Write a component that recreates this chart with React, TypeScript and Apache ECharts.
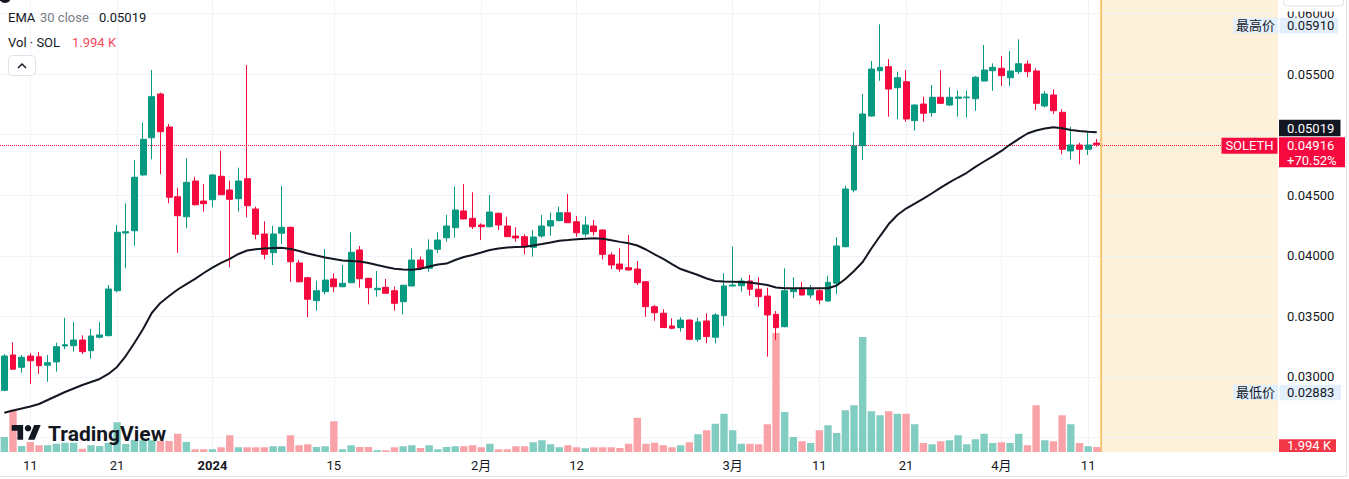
import React, { useEffect, useRef } from "react";
import * as echarts from "echarts";

// ---------------- data ----------------
const startDate = "2023-12-08";
const futureDays = 20;

const openPrices = [
  0.02890, 0.03182, 0.03080, 0.03173, 0.03167, 0.03097, 0.03124, 0.03256, 0.03258, 0.03305,
  0.03217, 0.03328, 0.03341, 0.03712, 0.04188, 0.04207, 0.04667, 0.04974, 0.05335, 0.05063,
  0.04487, 0.04322, 0.04617, 0.04452, 0.04463, 0.04656, 0.04543, 0.04471, 0.04636, 0.04386,
  0.04180, 0.04026, 0.04186, 0.04235, 0.03941, 0.03819, 0.03630, 0.03704, 0.03809, 0.03745,
  0.03778, 0.04048, 0.03814, 0.03720, 0.03740, 0.03712, 0.03621, 0.03751, 0.03965, 0.03897,
  0.04054, 0.04149, 0.04232, 0.04370, 0.04309, 0.04254, 0.04240, 0.04351, 0.04246, 0.04163,
  0.04158, 0.04070, 0.04163, 0.04246, 0.04290, 0.04355, 0.04281, 0.04180, 0.04246, 0.04213,
  0.04007, 0.03932, 0.03902, 0.03891, 0.03786, 0.03580, 0.03526, 0.03421, 0.03407, 0.03470,
  0.03311, 0.03462, 0.03328, 0.03506, 0.03751, 0.03753, 0.03792, 0.03724, 0.03668, 0.03517,
  0.03415, 0.03704, 0.03732, 0.03677, 0.03712, 0.03627, 0.03773, 0.04075, 0.04543, 0.04908,
  0.05153, 0.05527, 0.05560, 0.05387, 0.05436, 0.05115, 0.05252, 0.05181, 0.05308, 0.05244,
  0.05299, 0.05304, 0.05296, 0.05442, 0.05527, 0.05547, 0.05469, 0.05519, 0.05582, 0.05525,
  0.05236, 0.05327, 0.05184, 0.04865, 0.04914, 0.04879, 0.04930,
];

const closePrices = [
  0.03173, 0.03064, 0.03163, 0.03134, 0.03093, 0.03118, 0.03250, 0.03266, 0.03305, 0.03209,
  0.03338, 0.03347, 0.03726, 0.04194, 0.04199, 0.04648, 0.04961, 0.05313, 0.05024, 0.04483,
  0.04331, 0.04606, 0.04421, 0.04430, 0.04667, 0.04504, 0.04466, 0.04617, 0.04413, 0.04177,
  0.04012, 0.04180, 0.04235, 0.03951, 0.03786, 0.03641, 0.03712, 0.03800, 0.03745, 0.03773,
  0.04029, 0.03811, 0.03737, 0.03732, 0.03691, 0.03608, 0.03757, 0.03965, 0.03897, 0.04048,
  0.04130, 0.04246, 0.04378, 0.04304, 0.04240, 0.04240, 0.04361, 0.04254, 0.04158, 0.04147,
  0.04075, 0.04155, 0.04246, 0.04290, 0.04355, 0.04273, 0.04190, 0.04254, 0.04199, 0.04012,
  0.03924, 0.03891, 0.03883, 0.03778, 0.03580, 0.03530, 0.03408, 0.03402, 0.03470, 0.03311,
  0.03454, 0.03333, 0.03512, 0.03751, 0.03759, 0.03792, 0.03724, 0.03663, 0.03512, 0.03407,
  0.03712, 0.03724, 0.03677, 0.03724, 0.03635, 0.03781, 0.04081, 0.04551, 0.04906, 0.05170,
  0.05541, 0.05555, 0.05376, 0.05469, 0.05129, 0.05244, 0.05176, 0.05308, 0.05258, 0.05308,
  0.05310, 0.05310, 0.05473, 0.05533, 0.05555, 0.05486, 0.05525, 0.05585, 0.05519, 0.05258,
  0.05335, 0.05197, 0.04879, 0.04914, 0.04879, 0.04914, 0.04916,
];

const lowPrices = [
  0.02883, 0.03060, 0.03035, 0.02942, 0.03025, 0.02961, 0.03044, 0.03229, 0.03209, 0.03190,
  0.03151, 0.03319, 0.03335, 0.03699, 0.03897, 0.04083, 0.04660, 0.04796, 0.04672, 0.04433,
  0.04025, 0.04227, 0.04415, 0.04364, 0.04400, 0.04500, 0.03905, 0.04364, 0.04318, 0.04136,
  0.03971, 0.03924, 0.04097, 0.03786, 0.03780, 0.03493, 0.03547, 0.03682, 0.03699, 0.03740,
  0.03775, 0.03737, 0.03600, 0.03663, 0.03688, 0.03547, 0.03517, 0.03748, 0.03883, 0.03869,
  0.04021, 0.04116, 0.04149, 0.04300, 0.04221, 0.04130, 0.04235, 0.04213, 0.04155, 0.04116,
  0.04012, 0.03993, 0.04149, 0.04166, 0.04285, 0.04270, 0.04157, 0.04157, 0.04166, 0.03971,
  0.03891, 0.03869, 0.03880, 0.03759, 0.03497, 0.03464, 0.03405, 0.03394, 0.03374, 0.03305,
  0.03291, 0.03278, 0.03278, 0.03423, 0.03748, 0.03704, 0.03671, 0.03580, 0.03168, 0.03305,
  0.03410, 0.03649, 0.03672, 0.03649, 0.03600, 0.03621, 0.03685, 0.04070, 0.04524, 0.04790,
  0.05150, 0.05444, 0.05148, 0.05126, 0.05106, 0.05032, 0.05106, 0.05148, 0.05255, 0.05236,
  0.05148, 0.05143, 0.05197, 0.05440, 0.05362, 0.05401, 0.05401, 0.05500, 0.05473, 0.05203,
  0.05225, 0.05170, 0.04837, 0.04796, 0.04755, 0.04832, 0.04900,
];

const highPrices = [
  0.03190, 0.03286, 0.03182, 0.03196, 0.03206, 0.03182, 0.03283, 0.03489, 0.03454, 0.03344,
  0.03396, 0.03454, 0.03759, 0.04254, 0.04433, 0.04790, 0.05098, 0.05533, 0.05346, 0.05087,
  0.04562, 0.04804, 0.04652, 0.04592, 0.04675, 0.04867, 0.04620, 0.04727, 0.05574, 0.04405,
  0.04285, 0.04248, 0.04576, 0.04240, 0.03965, 0.03827, 0.03795, 0.04056, 0.03856, 0.03924,
  0.04194, 0.04081, 0.03818, 0.03875, 0.03809, 0.03745, 0.03760, 0.04062, 0.03993, 0.04136,
  0.04194, 0.04337, 0.04570, 0.04592, 0.04524, 0.04268, 0.04502, 0.04356, 0.04322, 0.04235,
  0.04177, 0.04213, 0.04337, 0.04355, 0.04405, 0.04510, 0.04328, 0.04322, 0.04295, 0.04215,
  0.04029, 0.04062, 0.04172, 0.03957, 0.03792, 0.03594, 0.03559, 0.03484, 0.03493, 0.03475,
  0.03489, 0.03526, 0.03526, 0.03856, 0.04075, 0.03819, 0.03842, 0.03823, 0.03737, 0.03545,
  0.03897, 0.03823, 0.03786, 0.03759, 0.03737, 0.03836, 0.04153, 0.04578, 0.05019, 0.05335,
  0.05607, 0.05910, 0.05624, 0.05519, 0.05533, 0.05250, 0.05313, 0.05409, 0.05533, 0.05390,
  0.05362, 0.05362, 0.05483, 0.05739, 0.05588, 0.05648, 0.05690, 0.05786, 0.05610, 0.05547,
  0.05360, 0.05374, 0.05209, 0.05065, 0.04933, 0.05016, 0.04964,
];

const ema30 = [
  0.02705, 0.02724, 0.02740, 0.02757, 0.02777, 0.02810, 0.02843, 0.02876, 0.02905, 0.02934,
  0.02959, 0.02984, 0.03025, 0.03083, 0.03173, 0.03281, 0.03396, 0.03528, 0.03611, 0.03668,
  0.03722, 0.03767, 0.03809, 0.03858, 0.03903, 0.03941, 0.03974, 0.04015, 0.04044, 0.04054,
  0.04060, 0.04064, 0.04067, 0.04056, 0.04040, 0.04019, 0.04002, 0.03986, 0.03974, 0.03961,
  0.03957, 0.03953, 0.03941, 0.03924, 0.03908, 0.03893, 0.03887, 0.03884, 0.03893, 0.03912,
  0.03928, 0.03936, 0.03965, 0.03990, 0.04007, 0.04027, 0.04048, 0.04060, 0.04068, 0.04073,
  0.04075, 0.04085, 0.04097, 0.04110, 0.04125, 0.04130, 0.04136, 0.04140, 0.04144, 0.04140,
  0.04128, 0.04115, 0.04103, 0.04085, 0.04052, 0.04011, 0.03974, 0.03932, 0.03891, 0.03866,
  0.03842, 0.03813, 0.03792, 0.03788, 0.03786, 0.03784, 0.03780, 0.03770, 0.03759, 0.03738,
  0.03732, 0.03732, 0.03732, 0.03732, 0.03732, 0.03732, 0.03755, 0.03809, 0.03875, 0.03949,
  0.04060, 0.04163, 0.04262, 0.04337, 0.04390, 0.04431, 0.04471, 0.04516, 0.04562, 0.04605,
  0.04646, 0.04685, 0.04734, 0.04778, 0.04821, 0.04865, 0.04918, 0.04964, 0.05009, 0.05034,
  0.05050, 0.05060, 0.05052, 0.05038, 0.05030, 0.05023, 0.05019,
];

// volume in thousands of SOL
const volumeK = [
  6.0, 16.9, 2.4, 4.0, 2.7, 2.7, 3.3, 3.7, 3.7, 1.3,
  2.7, 2.4, 3.7, 11.9, 3.2, 4.9, 4.7, 4.7, 4.4, 4.4,
  7.3, 4.0, 1.1, 1.1, 1.1, 1.9, 6.7, 1.9, 1.9, 1.9,
  1.9, 2.3, 2.3, 6.7, 2.7, 3.1, 2.0, 2.3, 12.3, 1.1,
  2.7, 2.0, 2.0, 0.7, 0.7, 1.9, 2.3, 2.7, 1.6, 2.7,
  1.1, 2.0, 2.3, 2.3, 2.7, 1.9, 3.3, 1.1, 1.1, 2.3,
  2.3, 3.9, 4.7, 3.1, 1.9, 2.7, 1.9, 1.5, 1.9, 1.9,
  1.9, 1.6, 3.3, 13.7, 3.3, 3.7, 2.7, 1.9, 2.7, 3.9,
  7.1, 8.7, 11.3, 15.3, 8.7, 3.3, 3.3, 3.1, 11.1, 47.6,
  16.0, 6.0, 4.3, 3.6, 8.7, 10.7, 7.6, 16.7, 18.7, 46.0,
  16.3, 14.7, 16.3, 15.3, 15.3, 11.1, 3.6, 3.1, 4.3, 4.7,
  6.7, 3.1, 5.1, 7.3, 3.6, 3.9, 3.6, 7.3, 2.7, 18.7,
  4.7, 4.3, 14.7, 11.1, 3.6, 2.3, 1.994,
];

const xTicks: [string, string][] = [
  ["2023-12-11", "11"],
  ["2023-12-21", "21"],
  ["2024-01-01", "2024"],
  ["2024-01-15", "15"],
  ["2024-02-01", "2月"],
  ["2024-02-12", "12"],
  ["2024-03-01", "3月"],
  ["2024-03-11", "11"],
  ["2024-03-21", "21"],
  ["2024-04-01", "4月"],
  ["2024-04-11", "11"],
];
const boldTicks = ["2024"];

const priceGridLevels = [0.025, 0.03, 0.035, 0.04, 0.045, 0.05, 0.055, 0.06];
const priceLabelLevels = [0.03, 0.035, 0.04, 0.045, 0.055, 0.06];
const PRICE_MIN = 0.023564;
const PRICE_MAX = 0.061106;
const VOLUME_MAX = 80;

const symbolName = "SOLETH";
const changePct = "+70.52%";
const emaLabel = "EMA";
const emaParams = "30 close";
const volLabel = "Vol · SOL";

// ---------------- styles ----------------
const FONT = "Roboto, 'Noto Sans CJK SC', sans-serif";
const TEXT = "#131722";
const MUTED = "#787b86";
const UP = "#089981";
const DOWN = "#f5093e";
const VOL_UP = "#82cdc1";
const VOL_DOWN = "#f9a3a8";
const GRIDLINE = "#f0f3fa";
const BAND = 8.7;
const GRID_LEFT = -BAND / 2;
const AXIS_X = 1278;

const TV_LOGO = "M14 22H7V11H0V4h14v18zM28 22h-8l7.5-18h8L28 22z";
echarts.graphic.registerShape("tvlogo", echarts.graphic.extendPath(TV_LOGO, {}) as any);

function buildDates(start: string, count: number): string[] {
  const out: string[] = [];
  const d = new Date(start + "T00:00:00Z");
  for (let i = 0; i < count; i++) {
    out.push(d.toISOString().slice(0, 10));
    d.setUTCDate(d.getUTCDate() + 1);
  }
  return out;
}

const categories = buildDates(startDate, openPrices.length + futureDays);
const tickMap = new Map<string, string>(xTicks);

function buildOption(): any {
  const gridWidth = categories.length * BAND;
  const candles = openPrices.map((o, i) => [o, closePrices[i], lowPrices[i], highPrices[i]]);
  const volumes = volumeK.map((v, i) => ({
    value: v,
    itemStyle: { color: closePrices[i] >= openPrices[i] ? VOL_UP : VOL_DOWN },
  }));
  const lastClose = closePrices[closePrices.length - 1];

  const markData: any[] = [];
  priceGridLevels.forEach((p) => {
    markData.push({
      yAxis: p,
      lineStyle: { color: GRIDLINE, width: 1, type: "solid" },
      label: {
        show: priceLabelLevels.includes(p),
        position: "end",
        distance: 12.5,
        formatter: p.toFixed(5),
        color: TEXT,
        fontSize: 13,
        lineHeight: 10,
        fontFamily: FONT,
      },
    });
  });
  xTicks.forEach(([d]) => {
    markData.push({
      xAxis: d,
      lineStyle: { color: GRIDLINE, width: 1, type: "solid" },
      label: { show: false },
    });
  });
  markData.push({
    yAxis: lastClose,
    lineStyle: { color: DOWN, width: 1, type: "dotted" },
    label: { show: false },
  });

  return {
    animation: false,
    textStyle: { fontFamily: FONT },
    grid: [
      { left: GRID_LEFT, top: 0, width: gridWidth, height: 455 },
      { left: GRID_LEFT, top: 252, width: gridWidth, height: 200 },
    ],
    xAxis: [
      { type: "category", gridIndex: 0, data: categories, boundaryGap: true, show: false },
      {
        type: "category",
        gridIndex: 1,
        data: categories,
        boundaryGap: true,
        axisLine: { show: false },
        axisTick: { show: false },
        splitLine: { show: false },
        axisLabel: {
          interval: (_i: number, v: string) => tickMap.has(v),
          formatter: (v: string) => {
            const l = tickMap.get(v) || "";
            return boldTicks.includes(l) ? `{b|${l}}` : l;
          },
          color: TEXT,
          fontSize: 13,
          fontFamily: FONT,
          margin: 7,
          rich: { b: { fontWeight: "bold", fontSize: 13, color: TEXT, fontFamily: FONT } },
        },
      },
    ],
    yAxis: [
      { type: "value", gridIndex: 0, min: PRICE_MIN, max: PRICE_MAX, show: false, scale: true },
      { type: "value", gridIndex: 1, min: 0, max: VOLUME_MAX, show: false },
    ],
    series: [
      {
        type: "line",
        name: "grid",
        xAxisIndex: 0,
        yAxisIndex: 0,
        data: categories.map(() => null),
        symbol: "none",
        silent: true,
        lineStyle: { opacity: 0 },
        z: 0,
        markLine: {
          silent: true,
          symbol: ["none", "none"],
          animation: false,
          precision: 10,
          z: 0,
          data: markData,
        },
      },
      {
        type: "bar",
        name: "Vol",
        xAxisIndex: 1,
        yAxisIndex: 1,
        data: volumes,
        barWidth: 7.4,
        z: 1,
      },
      {
        type: "candlestick",
        name: symbolName,
        xAxisIndex: 0,
        yAxisIndex: 0,
        data: candles,
        barWidth: 6.4,
        z: 2,
        itemStyle: {
          color: UP,
          color0: DOWN,
          borderColor: UP,
          borderColor0: DOWN,
          borderWidth: 1,
        },
      },
      {
        type: "line",
        name: "EMA 30",
        xAxisIndex: 0,
        yAxisIndex: 0,
        data: ema30,
        symbol: "none",
        showSymbol: false,
        lineStyle: { color: TEXT, width: 2 },
        z: 3,
      },
    ],
  };
}

function buildGraphics(chart: any): any[] {
  const yP = (v: number) => chart.convertToPixel({ yAxisIndex: 0 }, v) as number;
  const yVol = (v: number) => chart.convertToPixel({ yAxisIndex: 1 }, v) as number;
  const lastIdx = openPrices.length - 1;
  const xLast = chart.convertToPixel({ xAxisIndex: 0 }, lastIdx) as number;
  const xPrev = chart.convertToPixel({ xAxisIndex: 0 }, lastIdx - 1) as number;
  const futureX = xLast + (xLast - xPrev) / 2;
  const lastClose = closePrices[lastIdx];
  const priceY = yP(lastClose);
  const hi = Math.max(...highPrices);
  const lo = Math.min(...lowPrices);
  const hiY = yP(hi);
  const loY = yP(lo);
  const lastVol = volumeK[lastIdx];
  const volY = yVol(lastVol);
  const lastEma = ema30[lastIdx];
  const volText = `${lastVol.toFixed(3)} K`;

  const txt = (x: number, y: number, text: string, fill: string, o: any = {}) => ({
    type: "text",
    x,
    y,
    z: 100,
    silent: true,
    style: {
      text,
      fill,
      fontSize: o.size ?? 13,
      lineHeight: o.lineHeight ?? 10,
      fontFamily: FONT,
      fontWeight: o.weight ?? "normal",
      textAlign: o.align ?? "left",
      textVerticalAlign: "middle",
    },
  });
  const rect = (x: number, y: number, w: number, h: number, fill: string, o: any = {}) => ({
    type: "rect",
    z: o.z ?? 90,
    silent: true,
    shape: { x, y, width: w, height: h, r: o.r ?? 0 },
    style: { fill, stroke: o.stroke ?? null, lineWidth: o.lineWidth ?? 1 },
  });
  const line = (x1: number, y1: number, x2: number, y2: number, stroke: string, w = 1, z = 90) => ({
    type: "line",
    z,
    silent: true,
    shape: { x1, y1, x2, y2 },
    style: { stroke, lineWidth: w },
  });

  const logoScale = 0.817;
  const logoX = 11.7;
  const logoY = 425 - 4 * logoScale;

  return [
    // future (right) shaded area
    rect(futureX, 0, AXIS_X - futureX, 452, "#fdf1da", { z: -1 }),
    line(futureX, 0, futureX, 452, "#f6c670", 2, 1),

    // legend
    { type: "circle", z: 100, silent: true, shape: { cx: 5, cy: -3, r: 6 }, style: { fill: TEXT } },
    txt(8, 17, emaLabel, TEXT),
    txt(40, 17, emaParams, MUTED),
    txt(99, 17, lastEma.toFixed(5), TEXT),
    txt(8, 42, volLabel, TEXT),
    txt(72, 42, volText, "#f2495c"),
    rect(8.5, 55.5, 27, 20, "#ffffff", { r: 4, stroke: "#e0e3eb", z: 100 }),
    {
      type: "polyline",
      z: 101,
      silent: true,
      shape: { points: [[18, 68], [22, 64], [26, 68]] },
      style: { stroke: TEXT, lineWidth: 1.5, fill: null },
    },

    // TradingView watermark
    {
      type: "tvlogo",
      x: logoX,
      y: logoY,
      scaleX: logoScale,
      scaleY: logoScale,
      z: 100,
      silent: true,
      style: { fill: TEXT },
    },
    {
      type: "circle",
      z: 100,
      silent: true,
      shape: { cx: logoX + 20 * logoScale, cy: logoY + 8 * logoScale, r: 4 * logoScale },
      style: { fill: TEXT },
    },
    txt(48, 433.5, "TradingView", TEXT, { size: 21, weight: "bold", lineHeight: 22 }),

    // top of price column
    rect(1279, 0, 68, 11.5, "#ffffff", { z: 95 }),
    rect(1283.5, -6, 60, 12, "#ffffff", { r: 4, stroke: "#e0e3eb", z: 96 }),

    // highest price
    rect(1233, hiY - 6.5, 45, 15.5, "#e3effd"),
    txt(1255.5, hiY + 1.5, "最高价", TEXT, { align: "center" }),
    rect(1279.5, hiY - 6.5, 58.5, 15.5, "#e3effd"),
    txt(1287, hiY + 1.5, hi.toFixed(5), TEXT),

    // lowest price
    rect(1233, loY - 6.5, 45, 15.5, "#e3effd"),
    txt(1255.5, loY + 1.3, "最低价", TEXT, { align: "center" }),
    rect(1279.5, loY - 6.5, 61.5, 15.5, "#e3effd"),
    txt(1287, loY + 1.3, lo.toFixed(5), TEXT),

    // EMA last value
    rect(1279, priceY - 25, 61.5, 16.5, TEXT),
    txt(1287, priceY - 16.5, lastEma.toFixed(5), "#ffffff"),

    // symbol + last price
    rect(1221.5, priceY - 7, 56, 16, DOWN),
    txt(1249.5, priceY + 1, symbolName, "#ffffff", { align: "center" }),
    rect(1279, priceY - 7.5, 66, 30, DOWN),
    txt(1287, priceY + 0.8, lastClose.toFixed(5), "#ffffff"),
    txt(1287, priceY + 15.3, changePct, "#ffffff"),

    // last volume
    rect(1279, volY - 7.7, 57, 452 - (volY - 7.7), "#f23645"),
    txt(1287, volY - 1.2, volText, "#ffffff"),

    // borders
    line(1346.5, 0, 1346.5, 477, "#e0e3eb", 1, 100),
    line(0, 476.5, 1347, 476.5, "#e0e3eb", 1, 100),
  ];
}

export default function App() {
  const ref = useRef<HTMLDivElement>(null);
  useEffect(() => {
    document.body.style.margin = "0";
    const chart = echarts.init(ref.current!, undefined, { renderer: "svg" });
    chart.setOption(buildOption());
    chart.setOption({ graphic: { elements: buildGraphics(chart) } });
    return () => chart.dispose();
  }, []);
  return (
    <div
      ref={ref}
      style={{ position: "absolute", left: 0, top: 0, width: 1349, height: 479, background: "#ffffff" }}
    />
  );
}
